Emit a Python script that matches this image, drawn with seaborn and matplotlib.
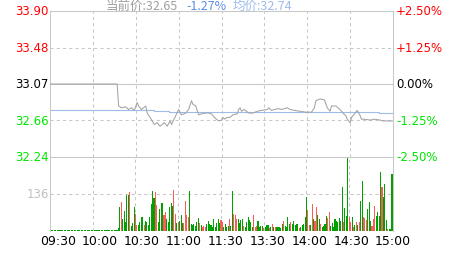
import numpy as np
import pandas as pd
import matplotlib
matplotlib.use('Agg')
import matplotlib.pyplot as plt
import seaborn as sns

# ---------------- data ----------------
price_minutes = [0, 47, 48, 50, 53, 55, 57, 59, 61, 62, 64, 67, 68, 70, 73, 75, 77, 80, 82, 84,
                 85, 88, 90, 92, 95, 97, 99, 100, 102, 104, 106, 109, 111, 113, 115, 118, 120, 121,
                 122, 124, 126, 128, 131, 132, 133, 134, 136, 139, 142, 145, 148, 152, 153, 155,
                 157, 160, 162, 166, 168, 171, 175, 179, 183, 185, 186, 189, 192, 194, 196, 197,
                 200, 203, 205, 207, 208, 210, 211, 213, 215, 217, 218, 220, 224, 227, 231, 233,
                 236, 240]
price_values = [33.07, 33.07, 32.82, 32.80, 32.81, 32.78, 32.80, 32.77, 32.86, 32.82, 32.78, 32.82,
                32.74, 32.69, 32.61, 32.63, 32.59, 32.63, 32.59, 32.65, 32.61, 32.71, 32.78, 32.72,
                32.74, 32.78, 32.88, 32.84, 32.82, 32.72, 32.73, 32.74, 32.74, 32.73, 32.69, 32.65,
                32.66, 32.69, 32.67, 32.69, 32.69, 32.72, 32.73, 32.78, 32.80, 32.76, 32.78, 32.74,
                32.74, 32.76, 32.77, 32.78, 32.80, 32.77, 32.78, 32.79, 32.78, 32.80, 32.78, 32.77,
                32.76, 32.75, 32.75, 32.80, 32.88, 32.90, 32.89, 32.80, 32.76, 32.82, 32.82, 32.78,
                32.74, 32.71, 32.67, 32.63, 32.69, 32.73, 32.77, 32.71, 32.67, 32.67, 32.66, 32.67,
                32.66, 32.65, 32.65, 32.65]

avg_minutes = [0, 73, 83, 230, 240]
avg_values = [32.77, 32.76, 32.75, 32.74, 32.74]

volume = ([4, 4, 4, 4, 4, 4, 4, 4, 4, 4, 4, 4, 4, 4, 4, 4, 4, 4, 4, 4, 4, 4, 4, 4,
           4, 4, 4, 4, 4, 4, 4, 4, 4, 4, 4, 4, 4, 4, 4, 4, 4, 4, 4, 4, 4, 4, 4, 4]
          + [11, 90, 108, 44, 75, 34, 134, 134, 145, 20, 29, 87, 63, 23, 23, 32, 53, 50, 23, 38,
             32, 23, 53, 100, 146, 121, 145, 97, 32, 81, 102, 104, 59, 71, 44, 32, 90, 102, 93,
             151, 63, 28, 32, 38, 57, 29, 29, 112, 57, 53, 148, 26, 22, 26, 20, 32, 48, 29, 22,
             13, 18, 16, 26]
          + [36, 26, 22, 13, 44, 13, 29, 44, 29, 40, 32, 13, 26, 16, 18, 44, 20, 148, 63, 59,
             44, 44, 29, 40, 44, 18, 13, 32, 53, 40, 32, 16, 57, 13, 18, 38, 13, 20, 20, 11,
             16, 23, 23, 11, 16, 26, 13, 16, 13, 16, 16, 11, 26, 38, 20, 16, 53, 26, 32, 26,
             38, 23, 26, 26]
          + [11, 16, 23, 26, 53, 124, 77, 23, 23, 99, 44, 38, 90, 59, 44, 26, 16, 20, 26, 56,
             48, 71, 20, 28, 13, 44, 38, 32, 48, 38, 161, 33, 85, 56, 271, 50, 32, 50, 13, 22,
             32, 23, 32, 112, 185, 50, 48, 42, 81, 106, 38, 20, 44, 93, 56, 69, 54, 217, 163, 124,
             173, 40, 8, 6, 6, 210])

vol_dir = list("gggggggggggggggggggggggggggggggggggggggggggggggg"          # 09:30-10:17
               "ggrgggggrg" "ggrrggggrg" "ggggggrrgg" "ggrrgggggr" "rgrgggrrrr"
               "gggggggrgr" "rrg"                                            # to 11:20
               "gggggggggr" "rggggrggrr" "rggggrgggg" "ggrrrggggr" "gggrgrgrgg"
               "gggrggggrg" "gggg"                                           # to 14:24
               "rgggggrrgr" "grrggrgggg" "rrgggggggg" "grgggrrgrg" "rgrggrrrgg"
               "grrrggggrg" "ggrggg")                                        # to 15:00

minutes = list(range(241))

price_levels = [33.90, 33.48, 33.07, 32.66, 32.24]
left_labels = ['33.90', '33.48', '33.07', '32.66', '32.24']
right_labels = ['+2.50%', '+1.25%', '0.00%', '-1.25%', '-2.50%']
level_colors = ['#ff0000', '#ff0000', '#000000', '#00e600', '#00e600']

vol_level = 136
time_labels = ['09:30', '10:00', '10:30', '11:00', '11:30', '13:30', '14:00', '14:30', '15:00']

# ---------------- drawing ----------------
sns.set_theme(style='white')
plt.rcParams['font.family'] = ['DejaVu Sans']

W, H = 463, 255
L, R = 50, 393
fig = plt.figure(figsize=(W / 100, H / 100), dpi=100)
fig.patch.set_facecolor('white')
ax_p = fig.add_axes([L / W, 1 - 158 / H, (R - L) / W, 146 / H])
ax_v = fig.add_axes([L / W, 1 - 232 / H, (R - L) / W, 74 / H])

grid_c = '#c8c8c8'
dash = (0, (3, 3))
for ax in (ax_p, ax_v):
    ax.set_facecolor('white')
    for s in ax.spines.values():
        s.set_color(grid_c)
        s.set_linewidth(0.75)
    ax.spines['bottom'].set_visible(False)
    for m in range(30, 240, 30):
        ax.axvline(m, color=grid_c, lw=0.75, ls=dash, zorder=0)

ax_p.axhline(33.07, color=grid_c, lw=0.75, zorder=0)
ax_p.axhline(33.48, color=grid_c, lw=0.75, ls=dash, zorder=0)
ax_p.axhline(32.66, color=grid_c, lw=0.75, ls=dash, zorder=0)
ax_v.axhline(vol_level, color=grid_c, lw=0.75, ls=dash, zorder=0)

sns.lineplot(x=avg_minutes, y=avg_values, ax=ax_p, color='#9dbcec', lw=0.8,
             drawstyle='steps-post', estimator=None, zorder=2)
sns.lineplot(x=price_minutes, y=price_values, ax=ax_p, color='#a3a3a3', lw=0.75,
             estimator=None, zorder=3)

df = pd.DataFrame({'minute': minutes, 'vol': volume, 'dir': vol_dir})
sns.barplot(data=df, x='minute', y='vol', hue='dir',
            palette={'r': '#ff5a5a', 'g': '#00a000'}, native_scale=True, dodge=False,
            width=0.75, saturation=1, legend=False, linewidth=0, errorbar=None, ax=ax_v)

ax_p.set_xlim(0, 240)
ax_v.set_xlim(0, 240)
ax_p.set_ylim(32.24, 33.90)
ax_v.set_ylim(0, 272)
for ax in (ax_p, ax_v):
    ax.set_xlabel('')
    ax.set_ylabel('')
    ax.set_yticks([])
ax_p.set_xticks([])

label_pos = [5.6 + 29.39 * i for i in range(len(time_labels))]
ax_v.set_xticks(label_pos, time_labels, fontsize=9, color='#000000')
ax_v.tick_params(axis='x', length=0, pad=2.5)

tr = ax_p.get_yaxis_transform()
for lvl, ll, rl, c in zip(price_levels, left_labels, right_labels, level_colors):
    ax_p.text(-0.004, lvl, ll, transform=tr, ha='right', va='center', color=c, fontsize=8.5)
    ax_p.text(1 + 3 / (R - L), lvl, rl, transform=tr, ha='left', va='center', color=c,
              fontsize=8.5)
ax_v.text(-0.004, vol_level, str(vol_level), transform=ax_v.get_yaxis_transform(),
          ha='right', va='center', color='#c0c0c0', fontsize=8.5)

cjk = ['Noto Sans CJK SC', 'DejaVu Sans']
ty = 1 - 9.5 / H
fig.text(105.5 / W, ty, '当前价:32.65', color='#a0a0a0', fontsize=9, family=cjk, va='baseline')
fig.text(186 / W, ty, '-1.27%', color='#5b8fe8', fontsize=9, family=cjk, va='baseline')
fig.text(233 / W, ty, '均价:32.74', color='#9dbcec', fontsize=9, family=cjk, va='baseline')

fig.savefig('out.png', dpi=100)
